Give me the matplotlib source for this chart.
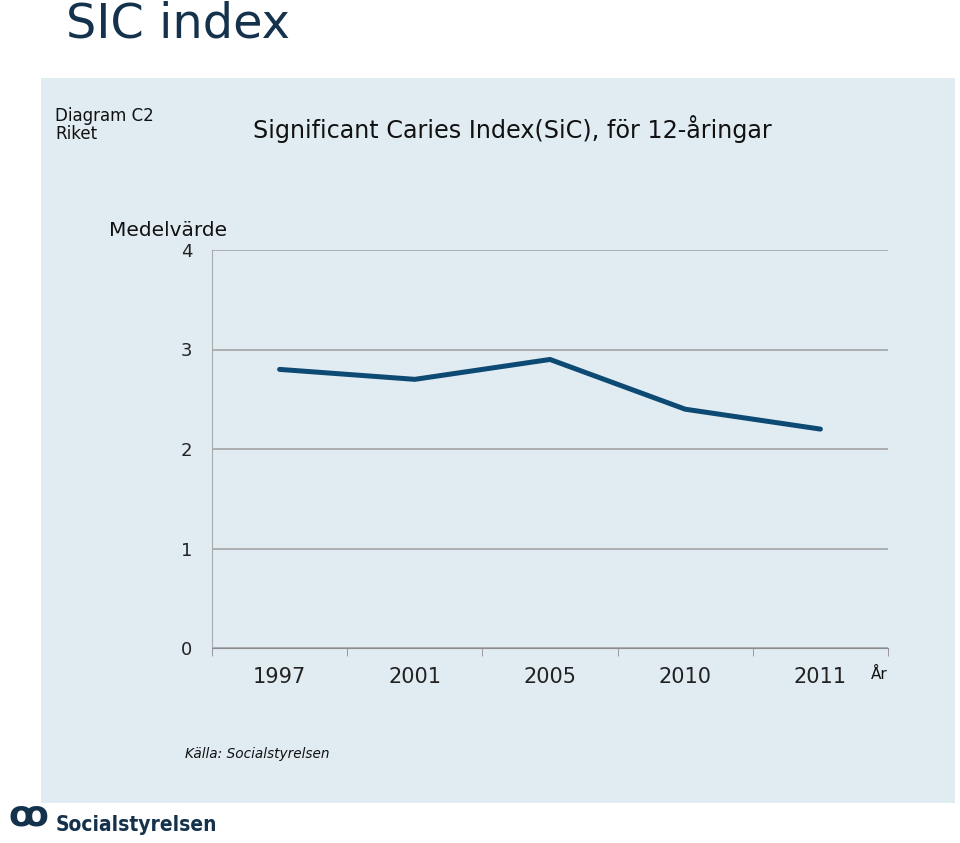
import matplotlib.pyplot as plt
from matplotlib.patches import Rectangle

years = ['1997', '2001', '2005', '2010', '2011']
sic = [2.8, 2.7, 2.9, 2.4, 2.2]
yticks = [0, 1, 2, 3, 4]

W, H = 960, 843
fig = plt.figure(figsize=(W / 100, H / 100), dpi=100)
fig.patch.set_facecolor('white')

# light panel behind the chart
fig.patches.append(Rectangle((41 / W, 1 - 803 / H), (955 - 41) / W, (803 - 78) / H,
                             transform=fig.transFigure, facecolor='#e1ebf2',
                             edgecolor='none', zorder=-10))

ax = fig.add_axes([212 / W, 1 - 648 / H, (888 - 212) / W, (648 - 250) / H])
ax.set_facecolor('none')
x = range(len(years))
ax.plot(x, sic, color='#0d4a73', lw=3.6, solid_capstyle='round', zorder=3)
ax.set_xlim(-0.5, len(years) - 0.5)
ax.set_ylim(0, 4)
ax.set_yticks(yticks)
ax.set_yticklabels([str(v) for v in yticks], fontsize=13, color='#222222')
ax.set_xticks(list(x))
ax.set_xticklabels(years, fontsize=15, color='#222222')
ax.set_xticks([i - 0.5 for i in range(len(years) + 1)], minor=True)
ax.tick_params(axis='x', which='major', length=0, pad=14)
ax.tick_params(axis='x', which='minor', length=6, color='#8c8c8c', direction='out')
ax.tick_params(axis='y', length=0, pad=14)
for v in yticks:
    ax.axhline(v, color='#a9a9a9', lw=1.3, zorder=1)
ax.spines['left'].set_color('#a9a9a9')
ax.spines['bottom'].set_color('#8c8c8c')
ax.spines['top'].set_visible(False)
ax.spines['right'].set_visible(False)

fig.text(66 / W, 1 - 24 / H, 'SIC index', fontsize=34.5, color='#14324c',
         va='center', ha='left')
fig.text(55 / W, 1 - 125 / H, 'Diagram C2\nRiket', fontsize=12, color='#111111',
         va='center', ha='left', linespacing=1.0)
fig.text(253 / W, 1 - 129 / H, 'Significant Caries Index(SiC), för 12-åringar',
         fontsize=17.2, color='#111111', va='center', ha='left')
fig.text(168 / W, 1 - 230 / H, 'Medelvärde', fontsize=14.5, color='#111111',
         va='center', ha='center')
fig.text(879 / W, 1 - 674 / H, 'År', fontsize=11, color='#111111',
         va='center', ha='center')
fig.text(185 / W, 1 - 754 / H, 'Källa: Socialstyrelsen', fontsize=9.8,
         style='italic', color='#111111', va='center', ha='left')

# logo
fig.text(8 / W, 1 - 815 / H, 'ꝏ', fontsize=26, color='#14324c', va='center',
         ha='left', fontweight='bold')
fig.text(56 / W, 1 - 825 / H, 'Socialstyrelsen', fontsize=15, color='#14324c',
         va='center', ha='left', fontweight='bold', fontstretch='condensed')

fig.savefig('out.png', dpi=100)
